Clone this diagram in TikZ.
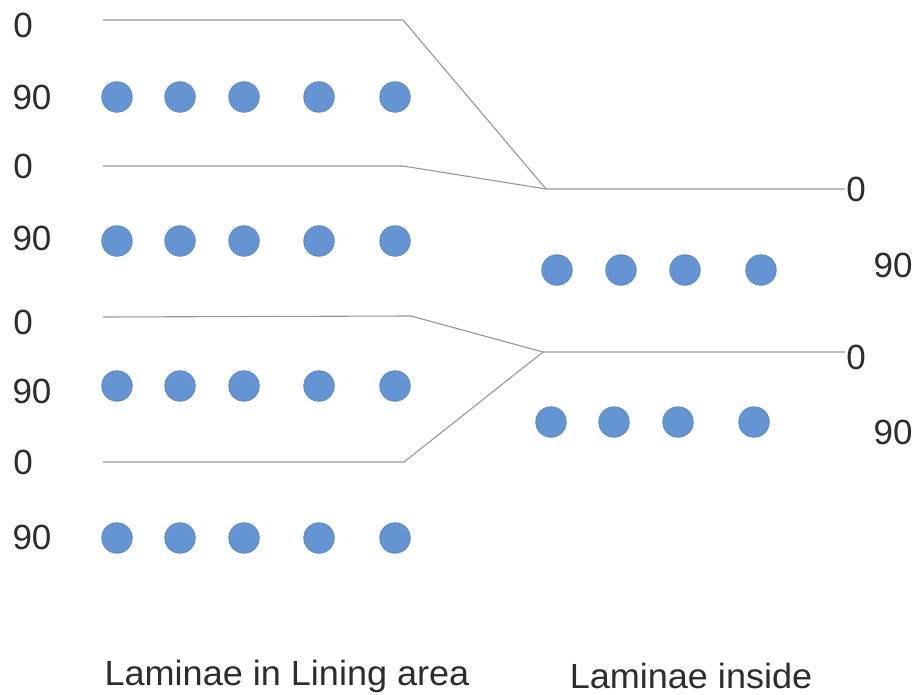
\documentclass[tikz,border=0pt]{standalone}
\usepackage{fontspec}
\setmainfont{Liberation Sans}
\definecolor{fibre}{RGB}{100,149,210}
\definecolor{fibreedge}{RGB}{90,135,195}
\definecolor{plyline}{RGB}{150,150,150}
\definecolor{labeltext}{RGB}{45,45,45}
\begin{document}
\begin{tikzpicture}[x=1pt,y=-1pt,
  fibredot/.style={circle,fill=fibre,draw=fibreedge,line width=0.8pt,minimum size=30.5pt,inner sep=0pt},
  plyedge/.style={draw=plyline,line width=1.1pt,line join=round},
  plylabel/.style={text=labeltext,font=\fontsize{35}{40}\selectfont,inner sep=0pt},
  caption/.style={text=labeltext,font=\fontsize{35}{40}\selectfont,inner sep=0pt,xscale=1.03}]
\useasboundingbox (0,0) rectangle (918,695);

% ply boundaries: four in the lining area merging into two inside
\draw[plyedge] (103,20) -- (403,20) -- (546,189) -- (845,189);
\draw[plyedge] (103,166) -- (403,166) -- (546,189);
\draw[plyedge] (103,317) -- (411,316) -- (543,352) -- (845,352);
\draw[plyedge] (103,462) -- (404,462) -- (543,352);

% fibres of the 90-degree plies, lining area
\foreach \r/\y in {1/97,2/241,3/386,4/538}{
  \foreach \c/\x in {1/117,2/180,3/244,4/319,5/395}{
    \node[fibredot] (L\r\c) at (\x,\y) {};
  }
}
% fibres of the 90-degree plies, inside
\foreach \c/\x in {1/557,2/621,3/685,4/761}{
  \node[fibredot] (Ia\c) at (\x,270) {};
}
\foreach \c/\x in {1/551,2/614,3/678,4/754}{
  \node[fibredot] (Ib\c) at (\x,422) {};
}

% ply orientation labels
\node[plylabel] (l1) at (23,25) {0};
\node[plylabel] (l2) at (32,97) {90};
\node[plylabel] (l3) at (23,166) {0};
\node[plylabel] (l4) at (32,238) {90};
\node[plylabel] (l5) at (23,322) {0};
\node[plylabel] (l6) at (32,391) {90};
\node[plylabel] (l7) at (23,462) {0};
\node[plylabel] (l8) at (32,537) {90};
\node[plylabel] (r1) at (856,189) {0};
\node[plylabel] (r2) at (893,265) {90};
\node[plylabel] (r3) at (856,357) {0};
\node[plylabel] (r4) at (893,432) {90};

% captions
\node[caption] (capL) at (287,676) {Laminae in Lining area};
\node[caption] (capR) at (691,676) {Laminae inside};
\end{tikzpicture}
\end{document}
